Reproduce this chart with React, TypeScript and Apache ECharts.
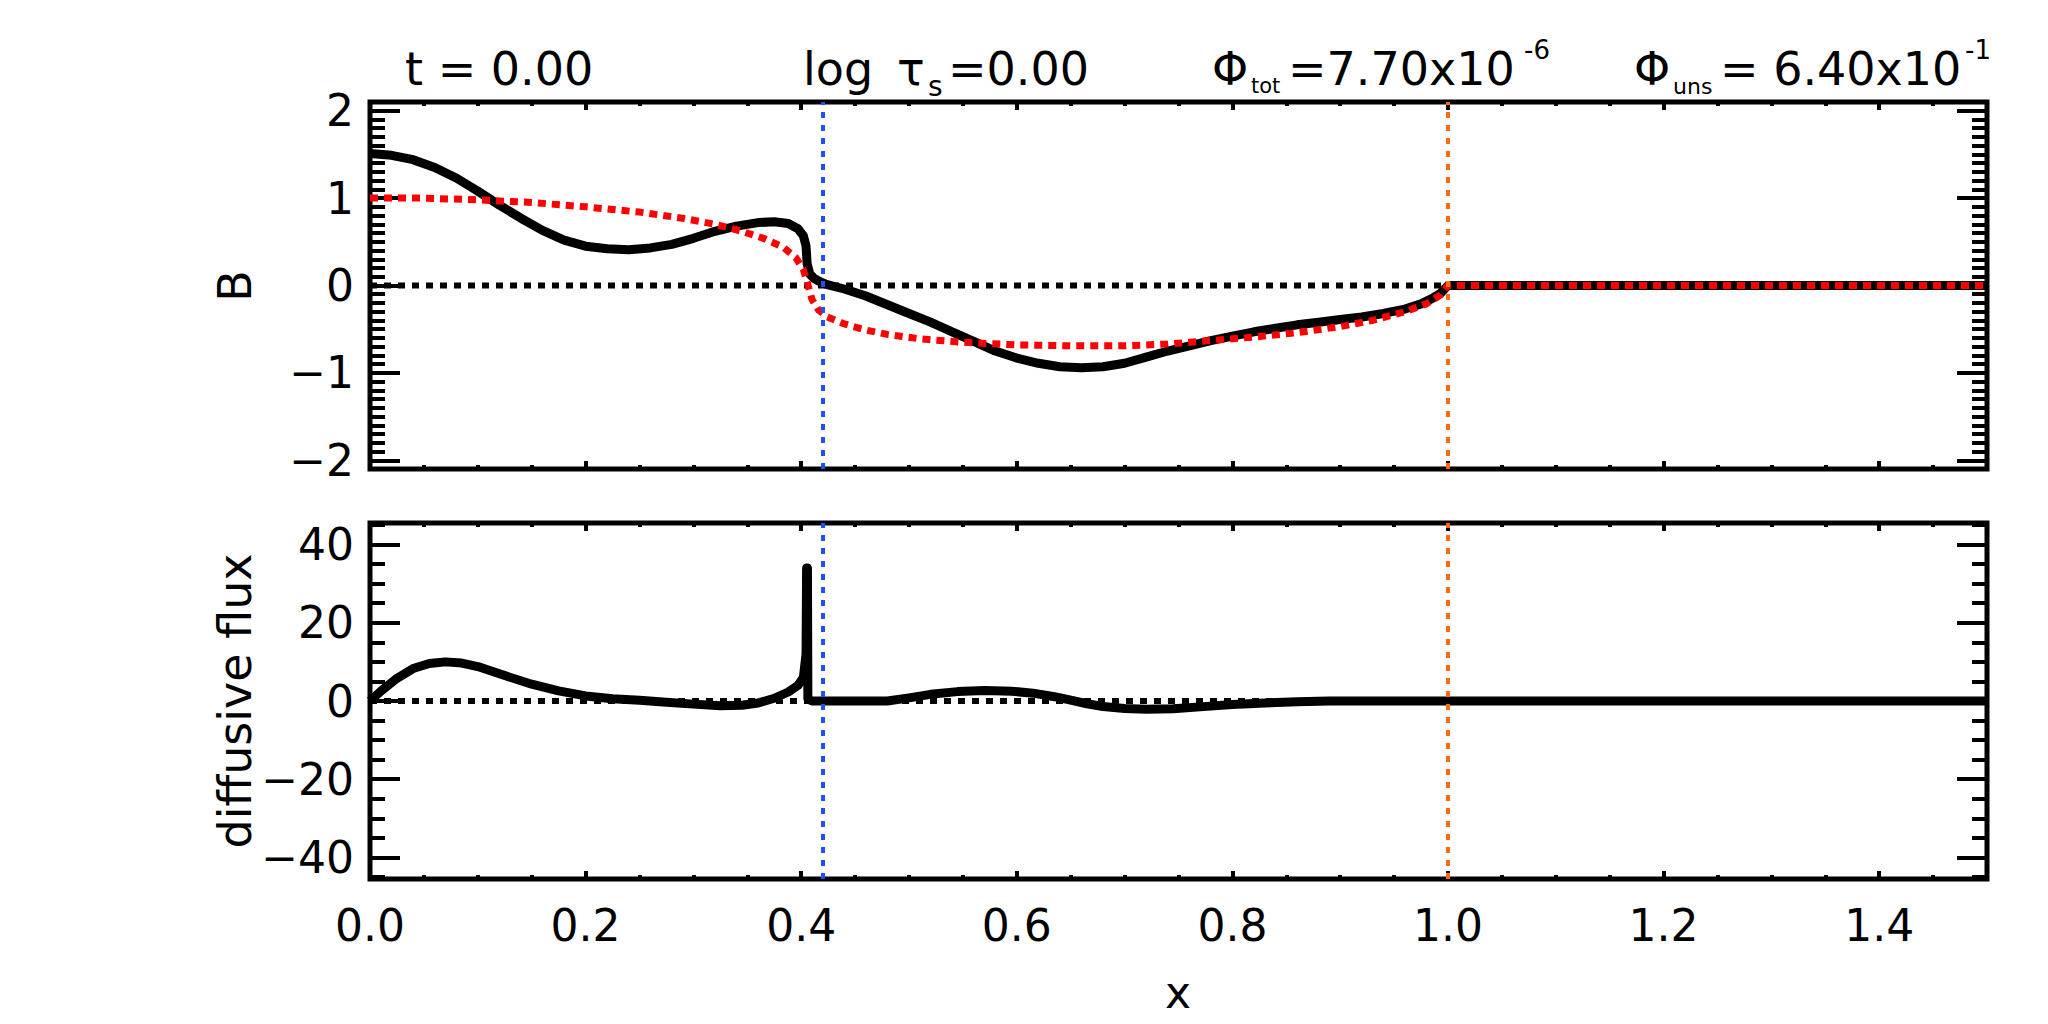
import React, { useEffect, useRef } from "react";
import * as echarts from "echarts";

// Magnetic field profile B(x): evolved (black) and initial (red dotted)
const bX = [0.0, 0.02, 0.04, 0.06, 0.08, 0.1, 0.12, 0.14, 0.16, 0.18, 0.2, 0.22, 0.24, 0.26, 0.28, 0.3, 0.32, 0.34, 0.36, 0.375, 0.388, 0.397, 0.402, 0.4045, 0.4055, 0.408, 0.412, 0.418, 0.424, 0.44, 0.46, 0.48, 0.5, 0.52, 0.54, 0.56, 0.58, 0.6, 0.62, 0.64, 0.66, 0.68, 0.7, 0.72, 0.74, 0.76, 0.78, 0.8, 0.82, 0.84, 0.86, 0.88, 0.9, 0.92, 0.94, 0.96, 0.975, 0.985, 0.993, 1.0, 1.5];
const bY = [1.51, 1.49, 1.44, 1.35, 1.23, 1.08, 0.92, 0.77, 0.63, 0.52, 0.45, 0.42, 0.41, 0.43, 0.47, 0.54, 0.62, 0.68, 0.72, 0.73, 0.71, 0.65, 0.57, 0.45, 0.25, 0.13, 0.08, 0.04, 0.01, -0.04, -0.12, -0.22, -0.32, -0.42, -0.53, -0.64, -0.75, -0.83, -0.89, -0.93, -0.94, -0.93, -0.89, -0.82, -0.75, -0.69, -0.63, -0.58, -0.53, -0.49, -0.45, -0.42, -0.39, -0.36, -0.32, -0.27, -0.21, -0.15, -0.09, 0.0, 0.0];

const b0X = [0.0, 0.05, 0.1, 0.15, 0.2, 0.25, 0.29, 0.32, 0.345, 0.365, 0.383, 0.395, 0.402, 0.406, 0.41, 0.416, 0.424, 0.44, 0.46, 0.48, 0.51, 0.55, 0.6, 0.65, 0.7, 0.74, 0.78, 0.82, 0.86, 0.9, 0.93, 0.96, 0.98, 0.993, 1.0, 1.5];
const b0Y = [1.0, 1.0, 0.98, 0.95, 0.9, 0.84, 0.77, 0.7, 0.62, 0.54, 0.44, 0.32, 0.18, 0.02, -0.16, -0.28, -0.36, -0.44, -0.51, -0.56, -0.61, -0.65, -0.68, -0.69, -0.69, -0.67, -0.63, -0.59, -0.54, -0.47, -0.4, -0.3, -0.21, -0.11, 0.0, 0.0];

// Diffusive flux
const fluxX = [0.0, 0.01, 0.025, 0.04, 0.055, 0.07, 0.085, 0.1, 0.125, 0.15, 0.175, 0.2, 0.225, 0.25, 0.275, 0.3, 0.325, 0.345, 0.36, 0.375, 0.388, 0.397, 0.402, 0.4045, 0.405, 0.4058, 0.4062, 0.41, 0.48, 0.5, 0.52, 0.545, 0.57, 0.595, 0.615, 0.635, 0.65, 0.665, 0.68, 0.7, 0.72, 0.745, 0.77, 0.8, 0.83, 0.86, 0.89, 1.5];
const fluxY = [0.0, 2.5, 5.8, 8.3, 9.6, 10.0, 9.7, 8.8, 6.5, 4.3, 2.6, 1.3, 0.6, 0.2, -0.3, -0.8, -1.2, -1.1, -0.5, 0.7, 2.3, 4.0, 6.0, 12.0, 34.0, 34.0, 0.5, 0.0, 0.0, 0.8, 1.7, 2.4, 2.7, 2.5, 2.0, 1.1, 0.2, -0.7, -1.4, -1.9, -2.1, -2.0, -1.5, -0.9, -0.5, -0.2, 0.0, 0.0];

// Vertical reference positions
const xBlue = 0.424;
const xOrange = 1.0;

// Axis ranges and tick labels
const X_RANGE = [0, 1.5];
const B_RANGE = [-2.1, 2.1];
const FLUX_RANGE = [-45.5, 45.5];
const X_MAJOR = [0, 0.2, 0.4, 0.6, 0.8, 1.0, 1.2, 1.4];
const B_MAJOR = [-2, -1, 0, 1, 2];
const FLUX_MAJOR = [-40, -20, 0, 20, 40];

const FONT = "DejaVu Sans";

function steps(from: number, to: number, step: number): number[] {
  const n = Math.round((to - from) / step);
  return Array.from({ length: n + 1 }, (_, i) => +(from + i * step).toFixed(6));
}
const X_MINOR = steps(0, 1.5, 0.05);
const B_MINOR = steps(-2, 2, 0.1);
const FLUX_MINOR = steps(-45, 45, 5);

const pairs = (xs: number[], ys: number[]) => xs.map((x, i) => [x, ys[i]]);

const fmtSigned = (v: number) => (v < 0 ? "\u2212" + Math.abs(v) : String(v));

function xAxis(gridIndex: number, position: string, values: number[], len: number, withLabels: boolean) {
  return {
    type: "value",
    gridIndex,
    position,
    min: X_RANGE[0],
    max: X_RANGE[1],
    axisLine: { show: false, onZero: false },
    splitLine: { show: false },
    axisTick: { show: true, inside: true, length: len, customValues: values, lineStyle: { color: "#000", width: 4 } },
    axisLabel: withLabels
      ? {
          show: true,
          customValues: values,
          formatter: (v: number) => v.toFixed(1),
          margin: 24,
          color: "#000",
          fontFamily: FONT,
          fontSize: 44,
        }
      : { show: false },
  };
}

function yAxis(gridIndex: number, position: string, range: number[], values: number[], len: number, withLabels: boolean) {
  return {
    type: "value",
    gridIndex,
    position,
    min: range[0],
    max: range[1],
    axisLine: { show: false, onZero: false },
    splitLine: { show: false },
    axisTick: { show: true, inside: true, length: len, customValues: values, lineStyle: { color: "#000", width: 4 } },
    axisLabel: withLabels
      ? {
          show: true,
          customValues: values,
          formatter: fmtSigned,
          margin: 16,
          color: "#000",
          fontFamily: FONT,
          fontSize: 44,
        }
      : { show: false },
  };
}

function text(x: number, y: number, str: string, size: number, rotate = false, align = "left") {
  return {
    type: "text",
    x,
    y,
    rotation: rotate ? Math.PI / 2 : 0,
    style: {
      text: str,
      fill: "#000",
      fontFamily: FONT,
      fontSize: size,
      align,
      textAlign: align,
      verticalAlign: "middle",
      textVerticalAlign: "middle",
    },
  };
}

const zeroStyle = { color: "#000", width: 6, type: [7, 7], cap: "butt" };
const markStyle = (color: string) => ({ color, width: 4, type: [6, 7], cap: "butt" });

function markers() {
  return {
    silent: true,
    symbol: ["none", "none"],
    label: { show: false },
    z: 6,
    data: [
      { xAxis: xBlue, lineStyle: markStyle("#1f4fff") },
      { xAxis: xOrange, lineStyle: markStyle("#ff6a10") },
    ],
  };
}

export default function App() {
  const ref = useRef<HTMLDivElement>(null);

  useEffect(() => {
    if (!ref.current) return;
    const chart = echarts.init(ref.current, null, { renderer: "svg" });
    const gridBase = { left: 370, width: 1617, show: true, borderColor: "#000", borderWidth: 5, backgroundColor: "transparent" };

    chart.setOption({
      animation: false,
      backgroundColor: "#fff",
      grid: [
        { ...gridBase, top: 102, height: 367 },
        { ...gridBase, top: 523, height: 356 },
      ],
      xAxis: [
        xAxis(0, "bottom", X_MAJOR, 8, false),
        xAxis(0, "bottom", X_MINOR, 4, false),
        xAxis(0, "top", X_MAJOR, 8, false),
        xAxis(0, "top", X_MINOR, 4, false),
        xAxis(1, "bottom", X_MAJOR, 8, true),
        xAxis(1, "bottom", X_MINOR, 4, false),
        xAxis(1, "top", X_MAJOR, 8, false),
        xAxis(1, "top", X_MINOR, 4, false),
      ],
      yAxis: [
        yAxis(0, "left", B_RANGE, B_MAJOR, 30, true),
        yAxis(0, "left", B_RANGE, B_MINOR, 15, false),
        yAxis(0, "right", B_RANGE, B_MAJOR, 30, false),
        yAxis(0, "right", B_RANGE, B_MINOR, 15, false),
        yAxis(1, "left", FLUX_RANGE, FLUX_MAJOR, 30, true),
        yAxis(1, "left", FLUX_RANGE, FLUX_MINOR, 15, false),
        yAxis(1, "right", FLUX_RANGE, FLUX_MAJOR, 30, false),
        yAxis(1, "right", FLUX_RANGE, FLUX_MINOR, 15, false),
      ],
      series: [
        {
          name: "zeroB",
          type: "line",
          xAxisIndex: 0,
          yAxisIndex: 0,
          data: [[X_RANGE[0], 0], [X_RANGE[1], 0]],
          symbol: "none",
          lineStyle: zeroStyle,
          z: 2,
        },
        {
          name: "B",
          type: "line",
          xAxisIndex: 0,
          yAxisIndex: 0,
          data: pairs(bX, bY),
          symbol: "none",
          lineStyle: { color: "#000", width: 9, join: "round" },
          z: 3,
        },
        {
          name: "B0",
          type: "line",
          xAxisIndex: 0,
          yAxisIndex: 0,
          data: pairs(b0X, b0Y),
          symbol: "none",
          lineStyle: { color: "#ff0000", width: 7, type: [8, 6], cap: "butt" },
          z: 4,
          markLine: markers(),
        },
        {
          name: "zeroFlux",
          type: "line",
          xAxisIndex: 4,
          yAxisIndex: 4,
          data: [[X_RANGE[0], 0], [X_RANGE[1], 0]],
          symbol: "none",
          lineStyle: zeroStyle,
          z: 2,
        },
        {
          name: "flux",
          type: "line",
          xAxisIndex: 4,
          yAxisIndex: 4,
          data: pairs(fluxX, fluxY),
          symbol: "none",
          lineStyle: { color: "#000", width: 9, join: "round" },
          z: 3,
          markLine: markers(),
        },
      ],
      graphic: {
        elements: [
          text(405, 69, "t = 0.00", 46),
          text(803, 69, "log", 46),
          text(897, 69, "\u03c4", 46),
          text(928, 86, "s", 28),
          text(948, 69, "=0.00", 46),
          text(1212, 69, "\u03a6", 46),
          text(1251, 86, "tot", 21),
          text(1288, 69, "=7.70x10", 46),
          text(1524, 50, "-6", 26),
          text(1634, 69, "\u03a6", 46),
          text(1673, 86, "uns", 22),
          text(1720, 69, "= 6.40x10", 46),
          text(1965, 50, "-1", 26),
          text(235, 286, "B", 46, true, "center"),
          text(235, 701, "diffusive flux", 46, true, "center"),
          text(1178, 992, "x", 44, false, "center"),
        ],
      },
    });
    return () => chart.dispose();
  }, []);

  return (
    <div
      ref={ref}
      style={{ position: "fixed", left: 0, top: 0, width: 2048, height: 1024, background: "#fff" }}
    />
  );
}
